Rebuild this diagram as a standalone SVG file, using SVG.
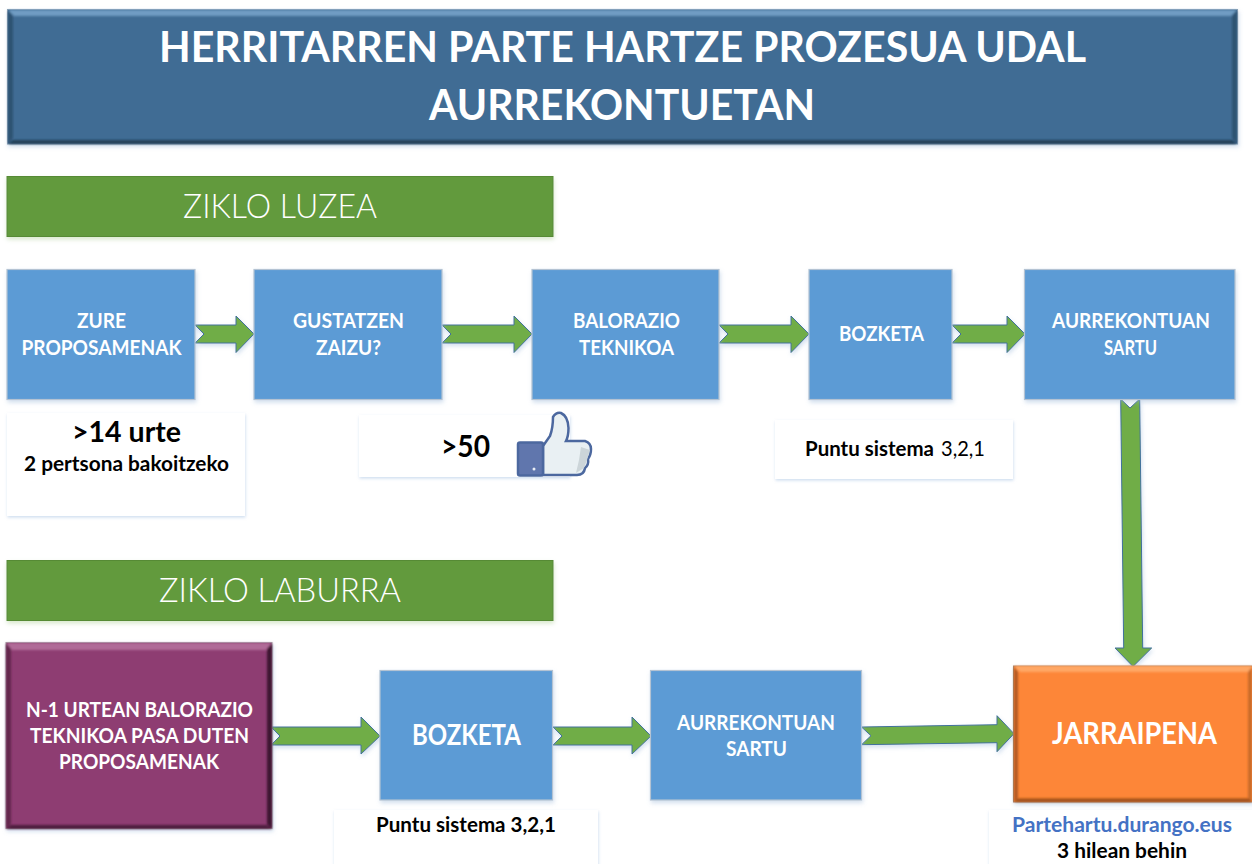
<svg xmlns="http://www.w3.org/2000/svg" width="1252" height="864" viewBox="0 0 1252 864">
<style>
text{font-family:"Lato","Liberation Sans",sans-serif;font-weight:700}
.w{fill:#fff}.k{fill:#000}
.n{font-size:20.500px}
.r{font-weight:400}
.t{font-weight:300}
.box{fill:#5b9bd5;stroke:#b4c3d3;stroke-width:1.2;filter:url(#sh)}
.note{fill:#fff;filter:url(#sh2)}
.head{fill:#629a3e;stroke:#578a36;stroke-width:1;filter:url(#sh3)}
.arr{fill:#70ad47;stroke:#41719c;stroke-width:1;stroke-linejoin:miter;filter:url(#sh)}
</style>
<defs>
<filter id="sh" x="-10%" y="-10%" width="120%" height="125%"><feDropShadow dx="1" dy="2.5" stdDeviation="2" flood-color="#8fb0d6" flood-opacity=".4"/></filter>
<filter id="sh2" x="-10%" y="-10%" width="120%" height="125%"><feDropShadow dx="0.5" dy="1.5" stdDeviation="1.5" flood-color="#9dbbe0" flood-opacity=".5"/></filter>
<filter id="sh3" x="-5%" y="-10%" width="110%" height="130%"><feDropShadow dx="0.5" dy="2.5" stdDeviation="2" flood-color="#a9cd91" flood-opacity=".45"/></filter>
<filter id="b" x="-5%" y="-5%" width="110%" height="110%"><feGaussianBlur stdDeviation="1"/></filter>
</defs>
<rect width="1252" height="864" fill="#fff"/>

<g id="title">
<rect x="7.500" y="9.500" width="1230" height="134.500" fill="#406c94" stroke="#8da3b8" filter="url(#sh)"/>
<g filter="url(#b)">
<polygon points="8,10 1237,10 1231,16 14,16" fill="#6f9cc3"/>
<polygon points="8,10 13,16 13,138 8,144" fill="#2f5272"/>
<polygon points="1237,10 1232,16 1232,138 1237,144" fill="#2f5272"/>
<polygon points="8,144 13,140 1232,140 1237,144" fill="#233f59"/>
</g>
<text class="w" x="159" y="62" font-size="42" textLength="927" lengthAdjust="spacingAndGlyphs">HERRITARREN PARTE HARTZE PROZESUA UDAL</text>
<text class="w" x="429" y="120" font-size="42" textLength="386" lengthAdjust="spacingAndGlyphs">AURREKONTUETAN</text>
</g>

<g id="zikloLuzea">
<rect class="head" x="7" y="176.500" width="546" height="60"/>
<text class="w t" x="183" y="218" font-size="34" textLength="194" lengthAdjust="spacingAndGlyphs">ZIKLO LUZEA</text>
</g>

<g id="note1">
<rect class="note" x="7" y="413" width="238" height="103"/>
<text class="k" x="72" y="441.500" font-size="29" textLength="109" lengthAdjust="spacingAndGlyphs">&gt;14 urte</text>
<text class="k n" x="24" y="470.500" textLength="205" lengthAdjust="spacingAndGlyphs">2 pertsona bakoitzeko</text>
</g>
<g id="note2">
<rect class="note" x="359" y="415" width="211" height="62"/>
<text class="k" x="441" y="457" font-size="30" textLength="49" lengthAdjust="spacingAndGlyphs">&gt;50</text>
<g id="thumb">
<path d="M543 446L550 436Q553 428 553 417Q556 412 561 413Q568 416 568.500 428Q568.500 436 566 441L585 441Q591 443 591 449Q591 455 588 459Q589 465 585 468Q584 475 577 475L543 475Z" fill="#e9f0f3" stroke="#4c689f" stroke-width="2.500"/>
<path d="M581 447L590 450L587 460L584 468L576 473L579 460Z" fill="#ccd5d9"/>
<rect x="518" y="442.500" width="25" height="33" rx="2" fill="#6076ad" stroke="#4c689f" stroke-width="2.500"/>
<circle cx="534" cy="469" r="1.500" fill="#e8edf5"/>
</g>
</g>
<g id="note3">
<rect class="note" x="775" y="420" width="238" height="59"/>
<text class="k n" x="805" y="456" textLength="129" lengthAdjust="spacingAndGlyphs">Puntu sistema</text>
<text class="k n r" x="941" y="456" textLength="44" lengthAdjust="spacingAndGlyphs">3,2,1</text>
</g>

<g id="connectors">
<polygon class="arr" points="195,325 236,325 236,316 254,334 236,352.500 236,343 195,343 204,334"/>
<polygon class="arr" points="442,325 514,325 514,316 532,334 514,352.500 514,343 442,343 451,334"/>
<polygon class="arr" points="719,325 791,325 791,316 809,334 791,352.500 791,343 719,343 728,334"/>
<polygon class="arr" points="952,325 1007,325 1007,316 1025,334 1007,352.500 1007,343 952,343 961,334"/>
<polygon class="arr" points="1120.700,399 1130,408 1139.700,399 1142.700,648 1151.700,648 1133,666.500 1115,648 1123.700,648"/>
<polygon class="arr" points="271,727 361,727 361,717 380,736 361,754 361,745 271,745 280,736"/>
<polygon class="arr" points="553,727 632,727 632,717 651,736 632,754 632,745 553,745 562,736"/>
<polygon class="arr" points="861.500,727 997,724.700 997,715.700 1014,733.700 997,751.700 997,742.700 861.500,744.700 871,735.700"/>
</g>

<g id="n1"><rect class="box" x="7" y="269.500" width="188" height="130"/>
<text class="w n" x="77" y="328" textLength="49" lengthAdjust="spacingAndGlyphs">ZURE</text>
<text class="w n" x="21.500" y="355" textLength="160" lengthAdjust="spacingAndGlyphs">PROPOSAMENAK</text></g>
<g id="n2"><rect class="box" x="254" y="269.500" width="188" height="130"/>
<text class="w n" x="293" y="328" textLength="111" lengthAdjust="spacingAndGlyphs">GUSTATZEN</text>
<text class="w n" x="316" y="355" textLength="65" lengthAdjust="spacingAndGlyphs">ZAIZU?</text></g>
<g id="n3"><rect class="box" x="532" y="269.500" width="187" height="130"/>
<text class="w n" x="573" y="328" textLength="107" lengthAdjust="spacingAndGlyphs">BALORAZIO</text>
<text class="w n" x="579" y="355" textLength="95" lengthAdjust="spacingAndGlyphs">TEKNIKOA</text></g>
<g id="n4"><rect class="box" x="809" y="269.500" width="143" height="130"/>
<text class="w n" x="839" y="341" textLength="85" lengthAdjust="spacingAndGlyphs">BOZKETA</text></g>
<g id="n5"><rect class="box" x="1024.500" y="269.500" width="210.500" height="130"/>
<text class="w n" x="1052" y="328" textLength="158" lengthAdjust="spacingAndGlyphs">AURREKONTUAN</text>
<text class="w n" x="1104" y="355" textLength="53" lengthAdjust="spacingAndGlyphs">SARTU</text></g>

<g id="zikloLaburra">
<rect class="head" x="7" y="560.500" width="546" height="60"/>
<text class="w t" x="159" y="602" font-size="34" textLength="242" lengthAdjust="spacingAndGlyphs">ZIKLO LABURRA</text>
</g>

<g id="n6">
<rect x="6" y="642.500" width="266" height="186" fill="#8e3e72" stroke="#a9a0a8" filter="url(#sh)"/>
<g filter="url(#b)">
<polygon points="6,643 272,643 266,650 12,650" fill="#b06a98"/>
<polygon points="6,643 11,649 11,824 6,829" fill="#63264e"/>
<polygon points="272,643 267,649 267,824 272,829" fill="#3e1530"/>
<polygon points="6,829 11,825 267,825 272,829" fill="#4e1c3d"/>
</g>
<text class="w n" x="26" y="716.500" textLength="227" lengthAdjust="spacingAndGlyphs">N-1 URTEAN BALORAZIO</text>
<text class="w n" x="30" y="742.500" textLength="219" lengthAdjust="spacingAndGlyphs">TEKNIKOA PASA DUTEN</text>
<text class="w n" x="59" y="769" textLength="160" lengthAdjust="spacingAndGlyphs">PROPOSAMENAK</text>
</g>
<g id="n7"><rect class="box" x="380" y="670.500" width="172.500" height="129.500"/>
<text class="w" x="412" y="745" font-size="28" textLength="109" lengthAdjust="spacingAndGlyphs">BOZKETA</text></g>
<g id="n8"><rect class="box" x="650.500" y="670.500" width="211" height="129.500"/>
<text class="w n" x="677" y="730" textLength="158" lengthAdjust="spacingAndGlyphs">AURREKONTUAN</text>
<text class="w n" x="726" y="755.500" textLength="61" lengthAdjust="spacingAndGlyphs">SARTU</text></g>

<g id="n9">
<rect x="1013.500" y="666" width="240" height="136" fill="#fd8637" stroke="#a9846a" filter="url(#sh)"/>
<g filter="url(#b)">
<polygon points="1014,666 1252,666 1252,672 1020,672" fill="#ffa765"/>
<polygon points="1014,666 1018,672 1018,798 1014,802" fill="#b35a20"/>
<polygon points="1014,802 1018,798.500 1252,798.500 1252,802" fill="#9c4f1b"/>
<polygon points="1252,667 1248,672 1248,798 1252,802" fill="#c96a2a"/>
</g>
<text class="w" x="1052" y="744" font-size="30" textLength="165" lengthAdjust="spacingAndGlyphs">JARRAIPENA</text>
</g>

<g id="note4">
<rect class="note" x="334" y="810" width="264" height="60"/>
<text class="k n" x="376" y="831.500" textLength="180" lengthAdjust="spacingAndGlyphs">Puntu sistema 3,2,1</text>
</g>
<g id="note5">
<rect class="note" x="989" y="810" width="270" height="60"/>
<text x="1012" y="832" font-size="20.500" fill="#4472c4" textLength="220" lengthAdjust="spacingAndGlyphs">Partehartu.durango.eus</text>
<text class="k n" x="1057" y="858" textLength="130" lengthAdjust="spacingAndGlyphs">3 hilean behin</text>
</g>
</svg>
